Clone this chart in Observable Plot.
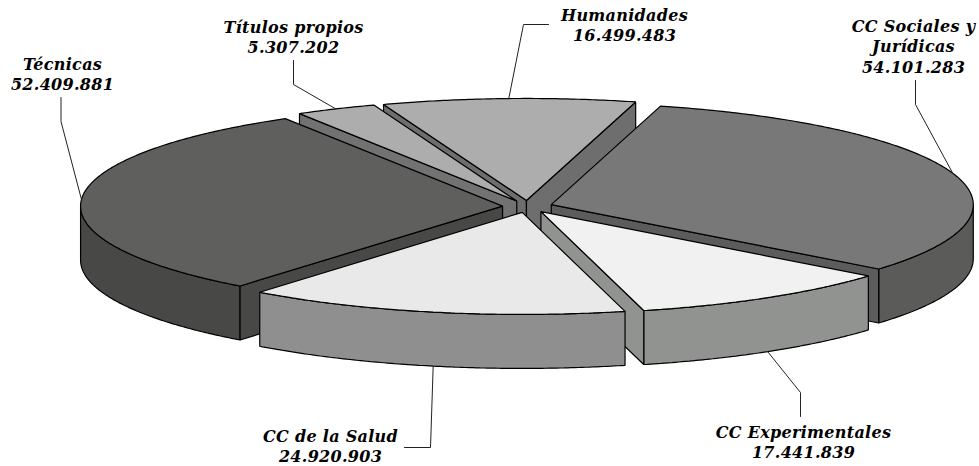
<!DOCTYPE html>
<html>
<head>
<meta charset="utf-8">
<style>html,body{margin:0;padding:0;background:#fff}svg{display:block}</style>
<script src="https://cdn.jsdelivr.net/npm/d3@7"></script>
<script src="https://cdn.jsdelivr.net/npm/@observablehq/plot@0.6"></script>
</head>
<body>
<script>
// Data
const names = ["Humanidades", "CC Sociales y\nJurídicas", "CC Experimentales", "CC de la Salud", "Técnicas", "Títulos propios"];
const values = [16499483, 54101283, 17441839, 24920903, 52409881, 5307202];

// Styles and layout (kept apart from the data)
const topColors  = ["#adadad", "#787878", "#f1f1f1", "#e9e9e9", "#5f5f5e", "#adadad"];
const rimColors  = ["#707070", "#5b5b59", "#919391", "#8f8f8f", "#484846", "#707070"];
const cutColors  = ["#6e6e6e", "#5c5c5c", "#919391", "#8f8f8f", "#484846", "#727272"];
const paintOrder = [0, 5, 1, 4, 2, 3];
const labelX = [624, 913, 803, 330, 62, 293];
const labelY = [24, 45, 441, 445, 73, 36];
const elbows = [
  [[548, 24], [523, 24]],
  [[915, 80], [915, 104]],
  [[800, 416], [800, 392]],
  [[404, 447], [430, 447]],
  [[60.5, 97], [60.5, 121]],
  [[293, 60], [293, 84]]
];
const cx = 527, cy = 206, rx = 422, ry = 102, depth = 54, explode = 0.0592;
const startDeg = -19.8;

const rad = d => d * Math.PI / 180;
const fmt = d3.formatLocale({decimal: ",", thousands: ".", grouping: [3], currency: ["", ""]}).format(",d");
const arcs = d3.pie().sort(null).startAngle(rad(startDeg)).endAngle(rad(startDeg + 360))(values);

const rim = (a, t, z = 0) => ({x: a.x + rx * Math.sin(t), y: a.y - ry * Math.cos(t) + z});
const slices = arcs.map((arc, i) => {
  const m = (arc.startAngle + arc.endAngle) / 2;
  const apex = {x: cx + explode * rx * Math.sin(m), y: cy - explode * ry * Math.cos(m)};
  return {i, m, apex, t0: arc.startAngle, t1: arc.endAngle};
});
const sweep = (a, t0, t1, z = 0) => {
  const n = Math.max(2, Math.ceil((t1 - t0) / rad(0.5)));
  return d3.range(n + 1).map(k => rim(a, t0 + (t1 - t0) * k / n, z));
};

const polygons = [];
for (const i of paintOrder) {
  const s = slices[i];
  // outer wall: the part of the rim that faces the viewer
  for (const [lo, hi] of [[rad(90), rad(270)], [rad(450), rad(630)]]) {
    const a = Math.max(s.t0, lo), b = Math.min(s.t1, hi);
    if (b > a) polygons.push({points: [...sweep(s.apex, a, b), ...sweep(s.apex, a, b, depth).reverse()], fill: rimColors[i]});
  }
  // cut walls
  const cut = t => {
    const p = rim(s.apex, t);
    polygons.push({points: [s.apex, p, {x: p.x, y: p.y + depth}, {x: s.apex.x, y: s.apex.y + depth}], fill: cutColors[i]});
  };
  if (Math.sin(s.t0) < 0) cut(s.t0);
  if (Math.sin(s.t1) > 0) cut(s.t1);
  // top face
  polygons.push({points: [s.apex, ...sweep(s.apex, s.t0, s.t1)], fill: topColors[i]});
}

const leaders = slices.map(s => {
  const front = Math.cos(s.m) < 0;
  return [...elbows[s.i].map(([x, y]) => ({x, y})), rim(s.apex, s.m, front ? depth : 0)];
});
const labels = names.map((n, i) => ({text: n + "\n" + fmt(values[i]), x: labelX[i], y: labelY[i]}));

const chart = Plot.plot({
  width: 979, height: 466,
  margin: 0,
  style: {letterSpacing: "0.3px"},
  x: {domain: [0, 979], range: [0, 979], axis: null},
  y: {domain: [0, 466], range: [0, 466], axis: null},
  marks: [
    ...polygons.map(p => Plot.line(p.points, {
      x: "x", y: "y", curve: "linear-closed",
      fill: p.fill, stroke: "#000", strokeWidth: 1.2, strokeLinejoin: "miter"
    })),
    ...leaders.map(l => Plot.line(l, {x: "x", y: "y", stroke: "#222", strokeWidth: 1})),
    Plot.text(labels, {
      x: "x", y: "y", text: "text", textAnchor: "middle", lineAnchor: "middle",
      fontFamily: "DejaVu Serif", fontWeight: "bold", fontStyle: "italic",
      fontSize: 16, lineHeight: 1.28, fill: "#000"
    })
  ]
});
document.body.appendChild(chart);
</script>
</body>
</html>
